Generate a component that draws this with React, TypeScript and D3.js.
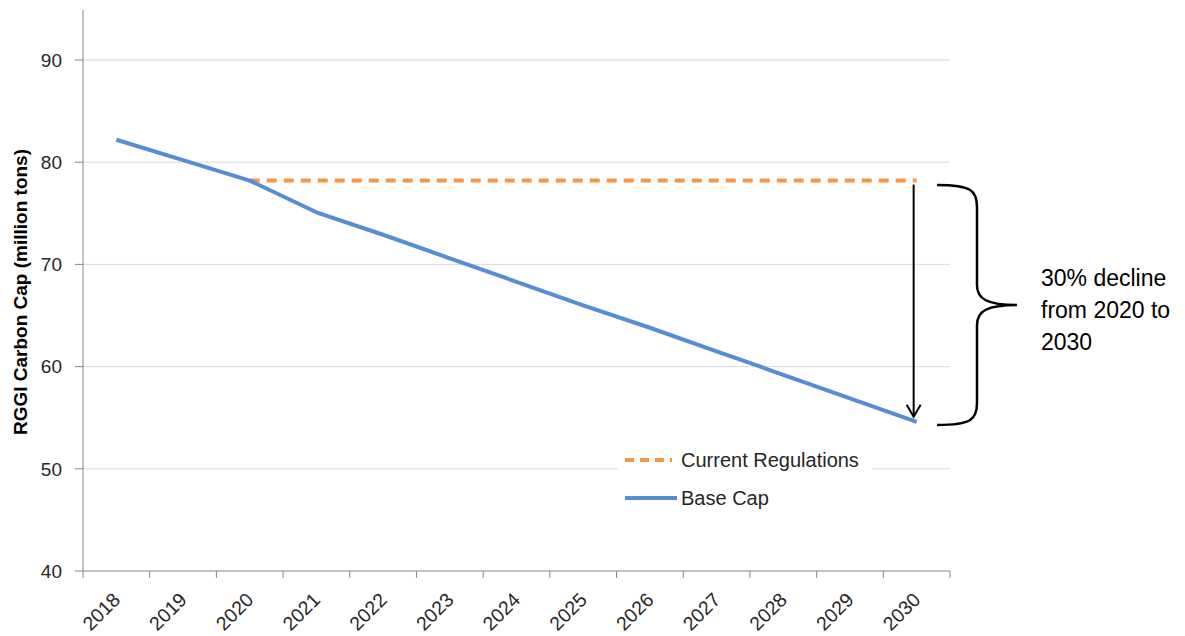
import React from "react";
import * as d3 from "d3";

const years = ["2018","2019","2020","2021","2022","2023","2024","2025","2026","2027","2028","2029","2030"];
const baseCap = [82.2, 80.2, 78.2, 75.1, 72.9, 70.6, 68.3, 66.0, 63.8, 61.5, 59.2, 56.9, 54.6];
const currentRegYears = ["2020","2021","2022","2023","2024","2025","2026","2027","2028","2029","2030"];
const currentReg = [78.2, 78.2, 78.2, 78.2, 78.2, 78.2, 78.2, 78.2, 78.2, 78.2, 78.2];
const yTicks = [40, 50, 60, 70, 80, 90];
const annotationLines = ["30% decline", "from 2020 to", "2030"];

const W = 1185, H = 636;
const left = 83, right = 950, top = 60, bottom = 571;
const font = "'Liberation Sans', Arial, sans-serif";

export default function App() {
  const x = d3.scaleBand().domain(years).range([left, right]);
  const y = d3.scaleLinear().domain([40, 90]).range([bottom, top]);
  const cx = (yr: string) => (x(yr) as number) + x.bandwidth() / 2;

  const line = d3.line<[string, number]>().x(d => cx(d[0])).y(d => y(d[1]));
  const basePath = line(years.map((yr, i) => [yr, baseCap[i]]))!;
  const regPath = line(currentRegYears.map((yr, i) => [yr, currentReg[i]]))!;

  const xEnd = cx("2030");
  const arrowX = xEnd - 3;
  const arrowTop = y(currentReg[currentReg.length - 1]) + 4;
  const arrowBot = y(baseCap[baseCap.length - 1]) - 5;

  const bx0 = 937, bx1 = 977, btip = 1017;
  const bTop = 185, bBot = 425, bMid = 305;
  const brace = `M${bx0},${bTop} C${bx1 - 5},${bTop} ${bx1},${bTop + 6} ${bx1},${bTop + 22}
    L${bx1},${bMid - 20} C${bx1},${bMid - 6} ${bx1 + 10},${bMid} ${btip},${bMid}
    C${bx1 + 10},${bMid} ${bx1},${bMid + 6} ${bx1},${bMid + 20}
    L${bx1},${bBot - 22} C${bx1},${bBot - 6} ${bx1 - 5},${bBot} ${bx0},${bBot}`;

  const ticksX = years.map(yr => x(yr) as number).concat([right]);

  return (
    <svg width={W} height={H} style={{ position: "absolute", left: 0, top: 0, background: "#fff" }}>
      {/* gridlines */}
      {yTicks.filter(t => t !== 40).map(t => (
        <line key={t} x1={left} x2={right} y1={y(t)} y2={y(t)} stroke="#d9d9d9" strokeWidth={1} />
      ))}
      {/* axes */}
      <line x1={left} x2={left} y1={10} y2={bottom} stroke="#868686" strokeWidth={1} />
      <line x1={left} x2={right} y1={bottom} y2={bottom} stroke="#868686" strokeWidth={1} />
      {yTicks.map(t => (
        <g key={t}>
          <line x1={left - 8} x2={left} y1={y(t)} y2={y(t)} stroke="#868686" />
          <text x={62} y={y(t)} dy="0.36em" textAnchor="end" fontFamily={font} fontSize={19} fill="#262626">{t}</text>
        </g>
      ))}
      {ticksX.map((tx, i) => (
        <line key={i} x1={tx} x2={tx} y1={bottom} y2={bottom + 7} stroke="#868686" />
      ))}
      {years.map(yr => (
        <text key={yr} transform={`translate(${cx(yr) + 5},${601}) rotate(-45)`} textAnchor="end"
          fontFamily={font} fontSize={19.5} fill="#262626">{yr}</text>
      ))}
      <text transform={`translate(27,${292}) rotate(-90)`} textAnchor="middle" fontFamily={font}
        fontSize={19} fontWeight="bold" fill="#000">RGGI Carbon Cap (million tons)</text>

      {/* series */}
      <path d={regPath} fill="none" stroke="#f79646" strokeWidth={4} strokeDasharray="10,7" />
      <path d={basePath} fill="none" stroke="#558ed5" strokeWidth={4} strokeLinejoin="round" />

      {/* legend */}
      <rect x={618} y={442} width={254} height={74} fill="#fff" />
      <line x1={625} x2={672} y1={460} y2={460} stroke="#f79646" strokeWidth={4} strokeDasharray="9,6" />
      <text x={681} y={460} dy="0.36em" fontFamily={font} fontSize={20} fill="#262626">Current Regulations</text>
      <line x1={625} x2={677} y1={498} y2={498} stroke="#558ed5" strokeWidth={4} />
      <text x={681} y={498} dy="0.36em" fontFamily={font} fontSize={20} fill="#262626">Base Cap</text>

      {/* annotation */}
      <line x1={arrowX} x2={arrowX} y1={arrowTop} y2={arrowBot} stroke="#000" strokeWidth={2} />
      <path d={`M${arrowX - 7},${arrowBot - 12} L${arrowX},${arrowBot} L${arrowX + 7},${arrowBot - 12}`}
        fill="none" stroke="#000" strokeWidth={2} />
      <path d={brace} fill="none" stroke="#000" strokeWidth={2.5} />
      {annotationLines.map((t, i) => (
        <text key={i} x={1041} y={278 + i * 32} dy="0.36em" fontFamily={font} fontSize={23} fill="#000">{t}</text>
      ))}
    </svg>
  );
}
